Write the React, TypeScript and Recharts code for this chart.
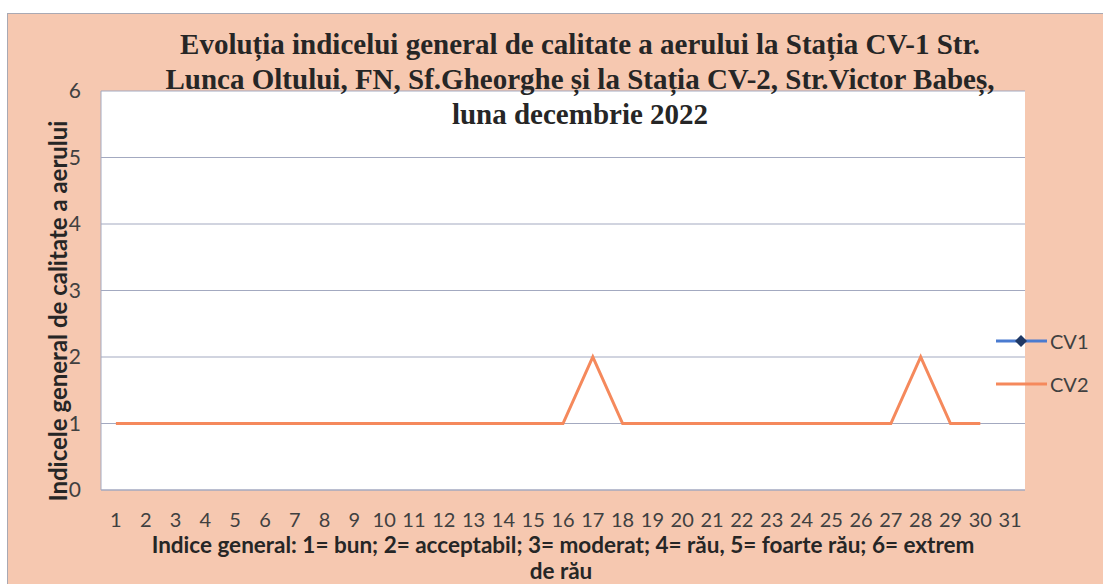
import React from "react";
import { LineChart, Line, XAxis, YAxis, CartesianGrid } from "recharts";

// zilele lunii decembrie 2022
const days = [
  "1", "2", "3", "4", "5", "6", "7", "8", "9", "10",
  "11", "12", "13", "14", "15", "16", "17", "18", "19", "20",
  "21", "22", "23", "24", "25", "26", "27", "28", "29", "30", "31",
];

// CV1 - fara date in luna decembrie
const cv1: (number | null)[] = [
  null, null, null, null, null, null, null, null, null, null,
  null, null, null, null, null, null, null, null, null, null,
  null, null, null, null, null, null, null, null, null, null, null,
];

const cv2: (number | null)[] = [
  1, 1, 1, 1, 1, 1, 1, 1, 1, 1,
  1, 1, 1, 1, 1, 1, 2, 1, 1, 1,
  1, 1, 1, 1, 1, 1, 1, 2, 1, 1, null,
];

const yTicks = [0, 1, 2, 3, 4, 5, 6];

const titleLines = [
  "Evoluția indicelui general de calitate a aerului la Stația CV-1 Str.",
  "Lunca Oltului, FN, Sf.Gheorghe și la Stația CV-2, Str.Victor Babeș,",
  "luna decembrie 2022",
];

const noteLines = [
  "Indice general: 1= bun; 2= acceptabil; 3= moderat; 4= rău, 5= foarte rău; 6= extrem",
  "de rău",
];

const data = days.map((d, i) => ({ day: d, CV1: cv1[i], CV2: cv2[i] }));

const BG = "#f6c8b0";
const TXT = "#404040";
const GRID = "#a3a9c0";
const ORANGE = "#f5895c";
const BLUE = "#4a7bd0";
const NAVY = "#1f3864";
const sans = "Lato, 'Open Sans', sans-serif";

export default function App() {
  return (
    <div style={{ position: "absolute", left: 0, top: 0, width: 1103, height: 584, background: "#fff", overflow: "hidden" }}>
      <div
        style={{
          position: "absolute", left: 7, top: 13, width: 1096, height: 571,
          background: BG, boxShadow: "inset 1px 1px 0 #a9a9b3",
        }}
      >
        <LineChart
          width={1096}
          height={571}
          data={data}
          margin={{ top: 78, right: 78, left: 0, bottom: 0 }}
        >
          <CartesianGrid vertical={false} stroke={GRID} fill="#ffffff" fillOpacity={1} />
          <XAxis
            dataKey="day"
            scale="band"
            height={94}
            tickSize={0}
            tickMargin={23}
            interval={0}
            stroke={GRID}
            tick={{ fill: TXT, fontSize: 20, fontFamily: sans }}
          />
          <YAxis
            domain={[0, 6]}
            ticks={yTicks}
            width={94}
            tickSize={0}
            tickMargin={20}
            stroke={GRID}
            tick={{ fill: TXT, fontSize: 21, fontFamily: sans }}
            label={{
              content: () => (
                <text
                  x={50}
                  y={298}
                  transform="rotate(-90 50 298)"
                  textAnchor="middle"
                  dominantBaseline="central"
                  fill="#262626"
                  fontFamily={sans}
                  fontWeight="bold"
                  fontSize={24}
                >
                  Indicele general  de calitate a aerului
                </text>
              ),
            }}
          />
          <Line
            type="linear"
            dataKey="CV1"
            stroke={BLUE}
            strokeWidth={3}
            dot={false}
            isAnimationActive={false}
          />
          <Line
            type="linear"
            dataKey="CV2"
            stroke={ORANGE}
            strokeWidth={3}
            dot={false}
            isAnimationActive={false}
          />
        </LineChart>
      </div>

      <svg width={1103} height={584} style={{ position: "absolute", left: 0, top: 0, pointerEvents: "none" }}>
        {titleLines.map((t, i) => (
          <text
            key={i}
            x={580}
            y={54 + i * 35}
            textAnchor="middle"
            fill="#262626"
            fontFamily="'Liberation Serif', 'Times New Roman', serif"
            fontWeight="bold"
            fontSize={29}
          >
            {t}
          </text>
        ))}
        {noteLines.map((t, i) => (
          <text
            key={i}
            x={i === 0 ? 563 : 561}
            y={553 + i * 26}
            textAnchor="middle"
            fill="#262626"
            fontFamily={sans}
            fontWeight="bold"
            fontSize={22.5}
          >
            {t}
          </text>
        ))}
        {/* legenda */}
        <line x1={996} y1={341} x2={1047} y2={341} stroke={BLUE} strokeWidth={3} />
        <path d="M1021 335 L1027 341 L1021 347 L1015 341 Z" fill={NAVY} />
        <text x={1050} y={341} dominantBaseline="central" fill={TXT} fontFamily={sans} fontSize={20}>CV1</text>
        <line x1={996} y1={384} x2={1047} y2={384} stroke={ORANGE} strokeWidth={3} />
        <text x={1050} y={384} dominantBaseline="central" fill={TXT} fontFamily={sans} fontSize={20}>CV2</text>
      </svg>
    </div>
  );
}
